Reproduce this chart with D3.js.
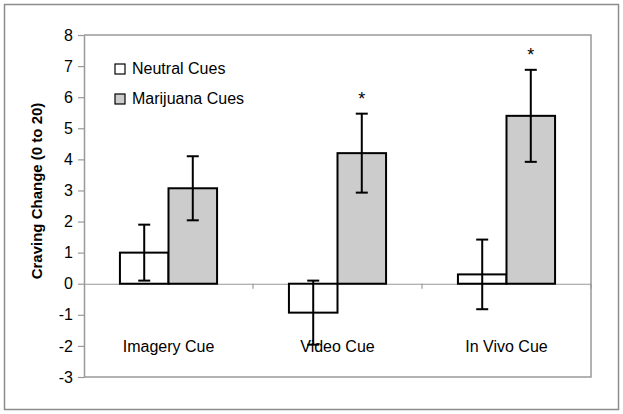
<!DOCTYPE html>
<html>
<head>
<meta charset="utf-8">
<script src="https://cdn.jsdelivr.net/npm/d3@7"></script>
<style>
  body { margin: 0; background: #fff; }
  text { font-family: "Liberation Sans", Arial, sans-serif; }
</style>
</head>
<body>
<div id="chart"></div>
<script>
var width  = 623;
var height = 414;

// data
var cues     = ["Imagery Cue", "Video Cue", "In Vivo Cue"];
var groups   = ["Neutral Cues", "Marijuana Cues"];
var neutral  = [1.0, -0.93, 0.3];
var neutralErr = [0.9, 1.03, 1.12];
var marijuana  = [3.07, 4.2, 5.4];
var marijuanaErr = [1.03, 1.27, 1.48];
var significant = [false, true, true];
var yTicks = [-3, -2, -1, 0, 1, 2, 3, 4, 5, 6, 7, 8];

var colors = { "Neutral Cues": "#ffffff", "Marijuana Cues": "#cccccc" };

var rows = [];
cues.forEach(function(c, i) {
  rows.push({ cue: c, group: groups[0], value: neutral[i], err: neutralErr[i] });
  rows.push({ cue: c, group: groups[1], value: marijuana[i], err: marijuanaErr[i] });
});

var margin = { left: 84, top: 35, right: 32, bottom: 37 };

var svg = d3.select("#chart")
    .append("svg")
    .attr("width", width)
    .attr("height", height);

// outer frame
svg.append("rect")
    .attr("x", 4.5).attr("y", 4.5)
    .attr("width", 614).attr("height", 405)
    .attr("fill", "none")
    .attr("stroke", "#8c8c8c")
    .attr("stroke-width", 1.5);

var x0 = d3.scaleBand()
    .domain(cues)
    .range([margin.left, width - margin.right])
    .paddingInner(0)
    .paddingOuter(0);

var x1 = d3.scaleBand()
    .domain(groups)
    .range([0, x0.bandwidth()])
    .paddingOuter(0.74)
    .paddingInner(0);

var y = d3.scaleLinear()
    .domain([-3, 8])
    .range([height - margin.bottom, margin.top]);

// plot frame (top + right)
svg.append("path")
    .attr("d", "M" + margin.left + "," + y(8) + "H" + (width - margin.right) + "V" + y(-3) + "H" + margin.left)
    .attr("fill", "none")
    .attr("stroke", "#999")
    .attr("stroke-width", 1.5);

// y axis
var yAxis = svg.append("g")
    .attr("transform", "translate(" + margin.left + ",0)")
    .call(d3.axisLeft(y).tickValues(yTicks).tickSize(6).tickSizeOuter(0).tickPadding(5)
      .tickFormat(function(d) { return String(d); }));
yAxis.select(".domain").attr("stroke", "#999").attr("stroke-width", 1.5);
yAxis.selectAll(".tick line").attr("stroke", "#999").attr("stroke-width", 1.2);
yAxis.selectAll(".tick text")
    .attr("font-size", 16)
    .attr("fill", "#000")
    .style("font-family", "'Liberation Sans', Arial, sans-serif");

// zero line with category ticks
var xAxis = svg.append("g")
    .attr("transform", "translate(0," + y(0) + ")")
    .call(d3.axisBottom(x0).tickSize(0).tickFormat(""));
xAxis.select(".domain").attr("stroke", "#999").attr("stroke-width", 1.2);
xAxis.selectAll(".tick").remove();

svg.append("g").selectAll("line")
    .data(cues.slice(1).concat(["end"]))
    .enter()
    .append("line")
    .attr("x1", function(d) { return d === "end" ? width - margin.right : x0(d); })
    .attr("x2", function(d) { return d === "end" ? width - margin.right : x0(d); })
    .attr("y1", y(0))
    .attr("y2", y(0) + 5)
    .attr("stroke", "#999")
    .attr("stroke-width", 1.2);

// category labels
svg.append("g").selectAll("text")
    .data(cues)
    .enter()
    .append("text")
    .attr("x", function(d) { return x0(d) + x0.bandwidth() / 2; })
    .attr("y", y(-2) + 6)
    .attr("text-anchor", "middle")
    .attr("font-size", 16)
    .text(function(d) { return d; });

// bars
svg.append("g").selectAll("rect")
    .data(rows)
    .enter()
    .append("rect")
    .attr("x", function(d) { return x0(d.cue) + x1(d.group); })
    .attr("y", function(d) { return y(Math.max(0, d.value)); })
    .attr("width", x1.bandwidth())
    .attr("height", function(d) { return Math.abs(y(d.value) - y(0)); })
    .attr("fill", function(d) { return colors[d.group]; })
    .attr("stroke", "#000")
    .attr("stroke-width", 2);

// error bars
var cx = function(d) { return x0(d.cue) + x1(d.group) + x1.bandwidth() / 2; };
var eb = svg.append("g").selectAll("g")
    .data(rows)
    .enter()
    .append("g")
    .attr("stroke", "#000")
    .attr("stroke-width", 2);
eb.append("line")
    .attr("x1", cx).attr("x2", cx)
    .attr("y1", function(d) { return y(d.value + d.err); })
    .attr("y2", function(d) { return y(d.value - d.err); });
eb.append("line")
    .attr("x1", function(d) { return cx(d) - 6; })
    .attr("x2", function(d) { return cx(d) + 6; })
    .attr("y1", function(d) { return y(d.value + d.err); })
    .attr("y2", function(d) { return y(d.value + d.err); });
eb.append("line")
    .attr("x1", function(d) { return cx(d) - 6; })
    .attr("x2", function(d) { return cx(d) + 6; })
    .attr("y1", function(d) { return y(d.value - d.err); })
    .attr("y2", function(d) { return y(d.value - d.err); });

// significance stars
svg.append("g").selectAll("text")
    .data(rows.filter(function(d) { return d.group === groups[1] && significant[cues.indexOf(d.cue)]; }))
    .enter()
    .append("text")
    .attr("x", cx)
    .attr("y", function(d) { return y(d.value + d.err) - 9; })
    .attr("text-anchor", "middle")
    .attr("font-size", 18)
    .text("*");

// legend
var legend = svg.append("g").selectAll("g")
    .data(groups)
    .enter()
    .append("g")
    .attr("transform", function(d, i) { return "translate(115," + (64 + i * 30) + ")"; });
legend.append("rect")
    .attr("width", 10).attr("height", 10)
    .attr("fill", function(d) { return colors[d]; })
    .attr("stroke", "#000")
    .attr("stroke-width", 1.2);
legend.append("text")
    .attr("x", 17)
    .attr("y", 10)
    .attr("font-size", 16)
    .text(function(d) { return d; });

// y title
svg.append("text")
    .attr("transform", "translate(42,191) rotate(-90)")
    .attr("text-anchor", "middle")
    .attr("font-size", 15)
    .attr("font-weight", "bold")
    .text("Craving Change (0 to 20)");
</script>
</body>
</html>
